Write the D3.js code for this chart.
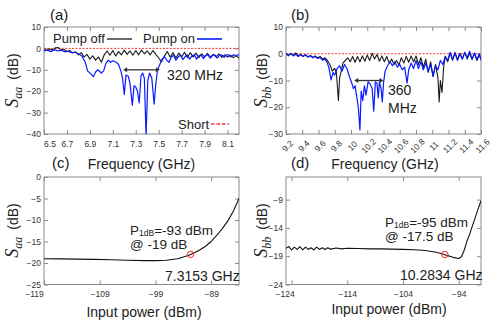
<!DOCTYPE html>
<html>
<head>
<meta charset="utf-8">
<script src="https://cdn.jsdelivr.net/npm/d3@7"></script>
<style>
body { margin: 0; background: #fff; }
svg { font-family: "Liberation Sans", Arial, sans-serif; }
.tick text { fill: #333; }
</style>
</head>
<body>
<svg id="fig" width="498" height="326"></svg>
<script>
'use strict';

// ---- panel (a): S_aa vs frequency ----
var aOffFreq = [6.5, 6.525, 6.55, 6.575, 6.6, 6.625, 6.65, 6.675, 6.7, 6.725, 6.75, 6.775, 6.8, 6.825, 6.85, 6.875, 6.9, 6.925, 6.95, 6.975, 7.0, 7.025, 7.05, 7.075, 7.1, 7.125, 7.15, 7.175, 7.2, 7.225, 7.25, 7.275, 7.3, 7.325, 7.35, 7.375, 7.4, 7.425, 7.45, 7.475, 7.5, 7.525, 7.55, 7.575, 7.6, 7.625, 7.65, 7.675, 7.7, 7.725, 7.75, 7.775, 7.8, 7.825, 7.85, 7.875, 7.9, 7.925, 7.95, 7.975, 8.0, 8.025, 8.05, 8.075, 8.1, 8.125, 8.15, 8.175, 8.2];
var aOffDb = [-0.5, -1.0, -0.3, -0.8, 0.3, 0.4, -0.8, -0.5, -1.5, -1.0, -2.2, -1.6, -3.0, -2.0, -4.0, -2.8, -5.0, -3.5, -5.5, -4.0, -6.5, -3.0, -1.2, -3.2, -1.0, -3.5, -1.5, -3.0, -0.8, -2.8, -1.2, -3.2, -1.0, -3.0, -0.8, -2.5, -1.2, -3.0, -1.0, -2.8, -4.5, -6.3, -3.5, -1.5, -4.0, -2.0, -4.5, -2.2, -4.0, -1.8, -4.2, -2.0, -4.0, -2.2, -4.3, -2.5, -4.0, -2.3, -4.2, -2.8, -4.0, -2.5, -4.2, -3.0, -4.0, -3.2, -4.3, -3.5, -4.5];
var aOnFreq = [6.5, 6.53, 6.56, 6.59, 6.62, 6.65, 6.68, 6.71, 6.74, 6.77, 6.8, 6.83, 6.86, 6.88, 6.91, 6.93, 6.95, 6.97, 7.0, 7.02, 7.04, 7.06, 7.08, 7.1, 7.13, 7.15, 7.17, 7.185, 7.2, 7.215, 7.235, 7.25, 7.27, 7.285, 7.3, 7.315, 7.33, 7.345, 7.36, 7.375, 7.39, 7.405, 7.42, 7.44, 7.46, 7.475, 7.49, 7.51, 7.53, 7.55, 7.57, 7.59, 7.61, 7.63, 7.65, 7.67, 7.69, 7.71, 7.73, 7.75, 7.77, 7.79, 7.81, 7.83, 7.85, 7.87, 7.89, 7.91, 7.93, 7.95, 7.97, 7.99, 8.01, 8.03, 8.05, 8.07, 8.09, 8.11, 8.13, 8.15, 8.17, 8.2];
var aOnDb = [-1.2, -0.8, -1.5, -0.6, -1.2, -0.8, -1.6, -1.3, -2.0, -1.8, -2.5, -3.5, -6.5, -10.5, -12.0, -13.2, -11.0, -10.0, -11.5, -10.5, -7.0, -5.5, -6.5, -5.8, -6.5, -7.5, -10.5, -14.0, -21.5, -12.5, -13.0, -16.5, -26.5, -17.5, -18.0, -20.0, -25.5, -13.0, -11.5, -14.0, -41.0, -15.0, -11.5, -14.0, -26.0, -16.5, -10.0, -7.5, -5.0, -3.8, -5.5, -6.5, -4.0, -3.2, -5.5, -4.0, -3.0, -5.2, -3.8, -3.0, -5.0, -3.5, -3.0, -5.0, -3.5, -3.0, -4.8, -3.3, -3.0, -4.5, -3.2, -3.0, -4.5, -3.2, -3.0, -4.2, -3.0, -3.0, -4.0, -3.0, -3.2, -3.0];
var aBand = [7.19, 7.51];
var aTicksX = [6.5, 6.7, 6.9, 7.1, 7.3, 7.5, 7.7, 7.9, 8.1];
var aTicksY = [10, 0, -10, -20, -30, -40];

// ---- panel (b): S_bb vs frequency ----
var bOffFreq = [9.2, 9.23, 9.26, 9.29, 9.32, 9.35, 9.38, 9.41, 9.44, 9.47, 9.5, 9.53, 9.56, 9.59, 9.62, 9.65, 9.68, 9.71, 9.74, 9.77, 9.8, 9.82, 9.845, 9.86, 9.88, 9.9, 9.93, 9.96, 9.99, 10.02, 10.05, 10.08, 10.11, 10.14, 10.17, 10.2, 10.23, 10.26, 10.29, 10.32, 10.35, 10.38, 10.41, 10.44, 10.47, 10.5, 10.53, 10.56, 10.59, 10.62, 10.65, 10.68, 10.71, 10.74, 10.77, 10.8, 10.83, 10.86, 10.89, 10.92, 10.95, 10.98, 11.01, 11.04, 11.07, 11.085, 11.1, 11.12, 11.14, 11.16, 11.19, 11.22, 11.25, 11.28, 11.31, 11.34, 11.37, 11.4, 11.43, 11.46, 11.49, 11.52, 11.55, 11.58, 11.6];
var bOffDb = [0.0, -0.8, 0.2, -0.6, 0.3, -0.8, -0.2, -1.0, -0.3, -1.2, -0.6, -1.4, -0.8, -1.6, -1.0, -2.0, -1.5, -2.5, -4.0, -6.5, -5.5, -7.0, -17.5, -9.0, -6.5, -3.5, -2.5, -1.5, -3.0, -1.0, -3.2, -1.0, -3.0, -0.8, -2.8, -0.5, -2.5, 0.2, -2.0, -0.3, -2.8, -0.8, -3.0, -1.0, -3.5, -2.0, -4.0, -2.5, -4.2, -1.5, -3.5, -1.0, -3.2, -0.8, -3.0, -0.8, -4.0, -1.5, -5.0, -2.0, -7.0, -3.0, -8.5, -4.0, -9.0, -18.0, -10.0, -14.5, -5.0, -1.0, -3.0, 0.3, -2.5, 0.5, -2.2, 0.2, -2.0, 0.5, -2.0, 0.3, -2.2, 0.0, -2.5, -0.5, -2.0];
var bOnFreq = [9.2, 9.23, 9.26, 9.29, 9.32, 9.35, 9.38, 9.41, 9.44, 9.47, 9.5, 9.53, 9.56, 9.59, 9.62, 9.65, 9.68, 9.71, 9.73, 9.755, 9.78, 9.8, 9.83, 9.86, 9.89, 9.92, 9.95, 9.98, 10.01, 10.03, 10.05, 10.07, 10.09, 10.11, 10.125, 10.145, 10.165, 10.185, 10.21, 10.23, 10.26, 10.28, 10.3, 10.32, 10.335, 10.35, 10.37, 10.385, 10.4, 10.42, 10.45, 10.48, 10.51, 10.54, 10.57, 10.6, 10.63, 10.66, 10.69, 10.71, 10.74, 10.77, 10.8, 10.83, 10.86, 10.89, 10.92, 10.95, 10.98, 11.01, 11.04, 11.07, 11.1, 11.13, 11.16, 11.19, 11.22, 11.25, 11.28, 11.31, 11.34, 11.37, 11.4, 11.43, 11.46, 11.49, 11.52, 11.55, 11.58, 11.6];
var bOnDb = [0.0, -0.5, 0.0, -0.8, -0.2, -1.0, -0.4, -1.0, -0.5, -1.2, -0.8, -1.5, -1.0, -1.8, -1.4, -2.4, -2.0, -3.5, -5.5, -9.8, -7.0, -8.0, -5.5, -4.5, -6.5, -4.0, -5.5, -8.5, -11.0, -13.0, -12.0, -16.0, -20.0, -28.5, -14.0, -17.5, -12.0, -15.5, -10.5, -11.0, -13.0, -21.5, -10.5, -11.0, -16.5, -10.5, -13.0, -18.0, -11.0, -6.5, -4.5, -3.0, -4.5, -3.0, -5.0, -4.0, -6.0, -5.0, -11.0, -6.0, -3.5, -5.5, -2.5, -5.5, -3.0, -6.0, -3.5, -6.5, -4.0, -8.5, -4.5, -6.0, -2.5, -4.0, -1.0, -2.5, 0.5, -2.0, 0.3, -2.5, 0.0, -2.0, 0.5, -1.5, 1.0, -2.0, 0.3, -2.2, 0.0, -2.5];
var bBand = [10.04, 10.4];
var bTicksX = [9.2, 9.4, 9.6, 9.8, 10, 10.2, 10.4, 10.6, 10.8, 11, 11.2, 11.4, 11.6];
var bTicksY = [10, 0, -10, -20, -30];

// ---- panel (c): S_aa vs input power at 7.3153 GHz ----
var cPower = [-119, -116, -113, -110, -107, -104, -101, -99, -97, -95, -93, -92, -91, -90, -89, -88, -87, -86, -85, -84];
var cDb = [-19.0, -19.05, -19.1, -19.15, -19.25, -19.35, -19.45, -19.45, -19.35, -19.0, -18.2, -17.6, -16.9, -16.1, -15.0, -13.6, -12.0, -10.2, -7.9, -5.0];
var cP1dB = [-92.7, -18.0];
var cTicksX = [-119, -109, -99, -89];
var cTicksY = [0, -5, -10, -15, -20, -25];

// ---- panel (d): S_bb vs input power at 10.2834 GHz ----
var dPower = [-125, -124.5, -124, -123.5, -123, -122.5, -122, -121.5, -121, -120.5, -120, -119.5, -119, -118.5, -118, -117.5, -117, -116, -115, -114, -112, -110, -108, -106, -104, -102, -100, -98, -97, -96, -95, -94, -93.5, -93, -92.5, -92, -91.5, -91, -90.5, -90];
var dDb = [-17.6, -17.3, -17.9, -17.4, -17.8, -17.3, -17.9, -17.4, -17.8, -17.5, -17.9, -17.4, -17.8, -17.5, -17.8, -17.5, -17.75, -17.55, -17.7, -17.6, -17.65, -17.7, -17.7, -17.75, -17.8, -17.85, -18.0, -18.3, -18.55, -18.9, -19.2, -19.4, -19.1, -17.9, -16.3, -15.0, -13.5, -12.1, -10.6, -9.2];
var dP1dB = [-96.5, -18.7];
var dTicksX = [-124, -114, -104, -94];
var dTicksY = [-9, -14, -19, -24];

var svg = d3.select('#fig');
var frameColor = '#8a8a8a';
var tickFont = 8.5;

function drawFrame(x, y, xTicks, yTicks, xFmt) {
    var g = svg.append('g');
    var x0 = x.range()[0], x1 = x.range()[1], y0 = y.range()[0], y1 = y.range()[1];

    var bottom = g.append('g').attr('transform', 'translate(0,' + y0 + ')')
        .call(d3.axisBottom(x).tickValues(xTicks).tickSize(-4).tickPadding(6.5).tickFormat(xFmt || d3.format('')));
    g.append('g').attr('transform', 'translate(0,' + y1 + ')')
        .call(d3.axisTop(x).tickValues(xTicks).tickSize(-4).tickFormat(''));
    var left = g.append('g').attr('transform', 'translate(' + x0 + ',0)')
        .call(d3.axisLeft(y).tickValues(yTicks).tickSize(-4).tickPadding(3).tickFormat(d3.format('')));
    g.append('g').attr('transform', 'translate(' + x1 + ',0)')
        .call(d3.axisRight(y).tickValues(yTicks).tickSize(-4).tickFormat(''));

    g.selectAll('.domain').remove();
    g.selectAll('.tick line').attr('stroke', frameColor);
    g.selectAll('.tick text').style('font-size', tickFont + 'px').attr('font-family', null);

    g.append('rect').attr('x', x0).attr('y', y1).attr('width', x1 - x0).attr('height', y0 - y1)
        .attr('fill', 'none').attr('stroke', frameColor).attr('stroke-width', 1);
    return { bottom: bottom, left: left };
}

function clipFor(id, x, y) {
    svg.append('clipPath').attr('id', id).append('rect')
        .attr('x', x.range()[0]).attr('y', y.range()[1])
        .attr('width', x.range()[1] - x.range()[0]).attr('height', y.range()[0] - y.range()[1]);
    return 'url(#' + id + ')';
}

function trace(x, y, xs, ys, color, width, clip) {
    var line = d3.line().x(function (d) { return x(d[0]); }).y(function (d) { return y(d[1]); });
    svg.append('path').datum(d3.zip(xs, ys)).attr('d', line)
        .attr('fill', 'none').attr('stroke', color).attr('stroke-width', width)
        .attr('stroke-linejoin', 'round').attr('clip-path', clip);
}

function yTitle(cx, cy, sub) {
    var t = svg.append('text').attr('transform', 'translate(' + cx + ',' + cy + ') rotate(-90)')
        .attr('text-anchor', 'middle').attr('fill', '#222');
    t.append('tspan').text('S').attr('font-family', '"Liberation Serif", serif').attr('font-style', 'italic').style('font-size', '18px');
    t.append('tspan').text(sub).attr('font-family', '"Liberation Serif", serif').attr('font-style', 'italic').style('font-size', '12px').attr('dy', 4);
    t.append('tspan').text('\u2002(dB)').style('font-size', '14px').attr('dy', -4);
}

function label(x, y, str, size, anchor) {
    return svg.append('text').attr('x', x).attr('y', y).text(str)
        .attr('text-anchor', anchor || 'start').style('font-size', (size || 14) + 'px').attr('fill', '#222');
}

function bandArrow(x, y, band, yv) {
    var yy = y(yv);
    var xa = x(band[0]), xb = x(band[1]);
    svg.append('line').attr('x1', xa + 3).attr('x2', xb - 3).attr('y1', yy).attr('y2', yy)
        .attr('stroke', '#333').attr('stroke-width', 1.3);
    svg.append('path').attr('d', 'M' + xa + ',' + yy + 'l4,-2.5v5z').attr('fill', '#333');
    svg.append('path').attr('d', 'M' + xb + ',' + yy + 'l-4,-2.5v5z').attr('fill', '#333');
}

function p1dbText(x, y1, pStr, atStr) {
    var t = svg.append('text').attr('x', x).attr('y', y1).style('font-size', '13.5px').attr('fill', '#222');
    t.append('tspan').text('P');
    t.append('tspan').text('1dB').style('font-size', '8.5px').attr('dy', 1.5);
    t.append('tspan').text(pStr).attr('dy', -1.5);
    label(x, y1 + 14.5, atStr, 13.5);
}

// ---------- (a) ----------
var xa = d3.scaleLinear().domain([6.5, 8.2]).range([44, 239]);
var ya = d3.scaleLinear().domain([-40, 10]).range([134, 27]);
var fa = drawFrame(xa, ya, aTicksX, aTicksY, d3.format('.1f'));
fa.bottom.select('.tick text').attr('dx', 5.5);
var clipA = clipFor('clipA', xa, ya);
svg.append('line').attr('x1', xa.range()[0]).attr('x2', xa.range()[1]).attr('y1', ya(0)).attr('y2', ya(0))
    .attr('stroke', '#ff3030').attr('stroke-width', 1).attr('stroke-dasharray', '2,1.5');
trace(xa, ya, aOffFreq, aOffDb, '#1a1a1a', 1.1, clipA);
trace(xa, ya, aOnFreq, aOnDb, '#0a1aff', 1.2, clipA);
bandArrow(xa, ya, aBand, -10);
label(167, 80, '320 MHz', 14);
label(53, 43, 'Pump off', 13);
svg.append('line').attr('x1', 107).attr('x2', 132).attr('y1', 39).attr('y2', 39).attr('stroke', '#1a1a1a').attr('stroke-width', 1.3);
label(143, 43, 'Pump on', 13);
svg.append('line').attr('x1', 197).attr('x2', 222).attr('y1', 39).attr('y2', 39).attr('stroke', '#0a1aff').attr('stroke-width', 1.6);
label(178, 129, 'Short', 13);
svg.append('line').attr('x1', 211).attr('x2', 229).attr('y1', 124).attr('y2', 124).attr('stroke', '#ff3030').attr('stroke-width', 1.3).attr('stroke-dasharray', '3.5,2');
label(50, 19.5, '(a)', 15);
label(141.5, 169, 'Frequency (GHz)', 14, 'middle');
yTitle(18, 80.5, 'aa');

// ---------- (b) ----------
var xb = d3.scaleLinear().domain([9.2, 11.6]).range([286, 481]);
var yb = d3.scaleLinear().domain([-30, 10]).range([134, 27]);
var fb = drawFrame(xb, yb, bTicksX, bTicksY, d3.format(''));
fb.bottom.selectAll('.tick text').attr('y', 0).attr('dy', '0.35em').attr('text-anchor', 'middle')
    .attr('transform', 'translate(1,12) rotate(-45)');
var clipB = clipFor('clipB', xb, yb);
svg.append('line').attr('x1', xb.range()[0]).attr('x2', xb.range()[1]).attr('y1', yb(0)).attr('y2', yb(0))
    .attr('stroke', '#ff3030').attr('stroke-width', 1).attr('stroke-dasharray', '2,1.5');
trace(xb, yb, bOffFreq, bOffDb, '#1a1a1a', 1.1, clipB);
trace(xb, yb, bOnFreq, bOnDb, '#0a1aff', 1.2, clipB);
bandArrow(xb, yb, bBand, -10);
label(388, 95, '360', 14);
label(388, 113, 'MHz', 14);
label(291, 19.5, '(b)', 15);
label(385, 169, 'Frequency (GHz)', 14, 'middle');
yTitle(267, 80.5, 'bb');

// ---------- (c) ----------
var xc = d3.scaleLinear().domain([-119, -84]).range([44, 239]);
var yc = d3.scaleLinear().domain([-25, 0]).range([284.5, 177]);
var fc = drawFrame(xc, yc, cTicksX, cTicksY, d3.format(''));
fc.bottom.select('.tick text').attr('dx', -10);
var clipC = clipFor('clipC', xc, yc);
trace(xc, yc, cPower, cDb, '#111', 1.1, clipC);
svg.append('circle').attr('cx', xc(cP1dB[0])).attr('cy', yc(cP1dB[1])).attr('r', 3.2)
    .attr('fill', 'none').attr('stroke', '#ff2020').attr('stroke-width', 1);
p1dbText(130, 234.5, '=-93 dBm', '@ -19 dB');
label(165, 281, '7.3153 GHz', 14);
label(52, 168, '(c)', 15);
label(144, 317, 'Input power (dBm)', 14, 'middle');
yTitle(18, 230.5, 'aa');

// ---------- (d) ----------
var xd = d3.scaleLinear().domain([-125, -90]).range([286, 481]);
var yd = d3.scaleLinear().domain([-24, -5]).range([284.5, 177]);
var fd = drawFrame(xd, yd, dTicksX, dTicksY, d3.format(''));
fd.bottom.select('.tick text').attr('dx', -7);
var clipD = clipFor('clipD', xd, yd);
trace(xd, yd, dPower, dDb, '#111', 1.1, clipD);
svg.append('circle').attr('cx', xd(dP1dB[0])).attr('cy', yd(dP1dB[1])).attr('r', 3.2)
    .attr('fill', 'none').attr('stroke', '#ff2020').attr('stroke-width', 1);
p1dbText(385, 226.5, '=-95 dBm', '@ -17.5 dB');
label(400, 280, '10.2834 GHz', 14);
label(291, 168, '(d)', 15);
label(389, 314, 'Input power (dBm)', 14, 'middle');
yTitle(267, 230.5, 'bb');
</script>
</body>
</html>
